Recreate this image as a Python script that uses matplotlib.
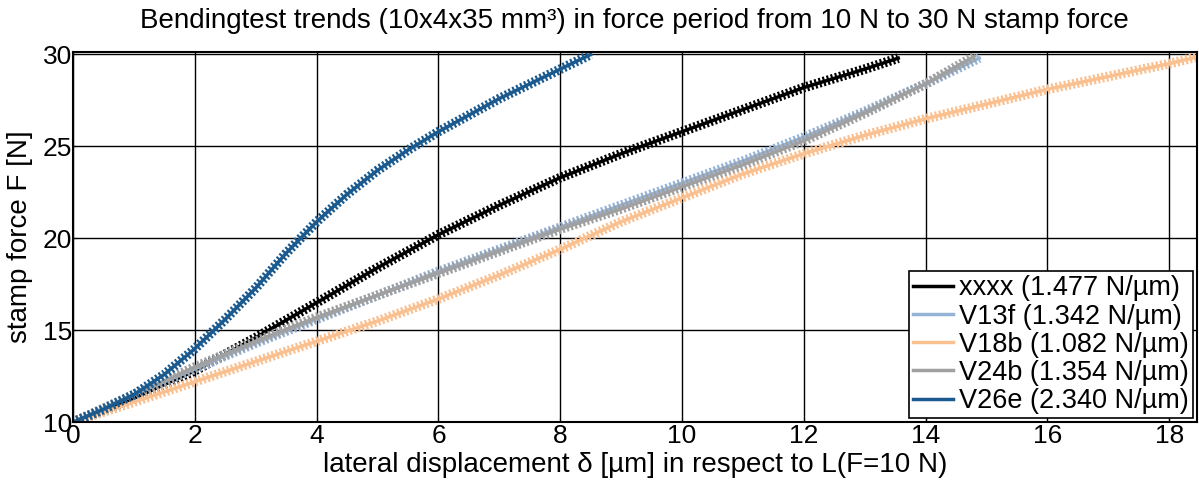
import numpy as np
import matplotlib
matplotlib.use("Agg")
import matplotlib.pyplot as plt

plt.rcParams['font.family'] = ['Liberation Sans', 'DejaVu Sans']

x_xxxx = [0, 1, 2, 3, 4, 5, 6, 7, 8, 9, 10, 11, 12, 13, 13.55]
y_xxxx = [10, 11.3, 12.8, 14.6, 16.5, 18.4, 20.2, 21.8, 23.3, 24.6, 25.8, 27.0, 28.2, 29.2, 29.8]

x_v13f = [0, 1, 2, 3, 4, 5, 6, 7, 8, 9, 10, 11, 12, 13, 14, 14.88]
y_v13f = [10, 11.5, 12.9, 14.3, 15.6, 16.9, 18.2, 19.4, 20.6, 21.8, 23.0, 24.2, 25.5, 26.9, 28.4, 29.8]

x_v18b = [0, 1, 2, 3, 4, 5, 6, 7, 8, 9, 10, 11, 12, 13, 14, 15, 16, 17, 18, 18.5]
y_v18b = [10, 11.1, 12.2, 13.3, 14.4, 15.5, 16.7, 18.0, 19.4, 20.9, 22.2, 23.5, 24.6, 25.6, 26.5, 27.3, 28.1, 28.8, 29.5, 29.9]

x_v24b = [0, 1, 2, 3, 4, 5, 6, 7, 8, 9, 10, 11, 12, 13, 14, 14.8]
y_v24b = [10, 11.5, 13.0, 14.4, 15.7, 16.9, 18.1, 19.3, 20.5, 21.6, 22.8, 24.0, 25.3, 26.8, 28.4, 29.9]

x_v26e = [0, 0.5, 1, 1.5, 2, 2.5, 3, 3.5, 4, 4.5, 5, 5.5, 6, 6.5, 7, 7.5, 8, 8.5]
y_v26e = [10, 10.7, 11.5, 12.6, 14.0, 15.6, 17.3, 19.2, 20.9, 22.4, 23.7, 24.8, 25.8, 26.7, 27.6, 28.4, 29.2, 30.0]

labels = ['xxxx (1.477 N/µm)', 'V13f (1.342 N/µm)', 'V18b (1.082 N/µm)',
          'V24b (1.354 N/µm)', 'V26e (2.340 N/µm)']
colors = ['#000000', '#95b3d7', '#fac090', '#a0a0a0', '#1b5a8e']
series = [(x_xxxx, y_xxxx), (x_v13f, y_v13f), (x_v18b, y_v18b),
          (x_v24b, y_v24b), (x_v26e, y_v26e)]

fig = plt.figure(figsize=(11.99, 4.83), dpi=100)
ax = fig.add_axes([0.061, 0.126, 0.937, 0.767])

for (xs, ys), c, lab in zip(series, colors, labels):
    # dotted band of data points around the fitted line
    ax.plot(xs, ys, color=c, lw=7, ls=(0, (0.22, 0.22)), solid_capstyle='butt')
    ax.plot(xs, ys, color=c, lw=2.5, label=lab)

ax.set_xlim(0, 18.45)
ax.set_ylim(10, 30.15)
ax.set_xticks(np.arange(0, 19, 2))
ax.set_yticks([10, 15, 20, 25, 30])
ax.grid(True, color='black', lw=1)
ax.tick_params(direction='in', labelsize=19, length=3, pad=1)
for s in ax.spines.values():
    s.set_linewidth(1.5)

ax.set_title('Bendingtest trends (10x4x35 mm³) in force period from 10 N to 30 N stamp force',
             fontsize=20, pad=17)
ax.set_xlabel('lateral displacement δ [µm] in respect to L(F=10 N)', fontsize=20, labelpad=3)
ax.set_ylabel('stamp force F [N]', fontsize=20, labelpad=7)

leg = ax.legend(loc='lower right', fontsize=19.5, frameon=True, fancybox=False,
                edgecolor='black', framealpha=1, handlelength=1.5, handletextpad=0.2,
                borderpad=0.15, labelspacing=0.08, borderaxespad=0.15)
leg.get_frame().set_linewidth(1.2)

fig.savefig('out.png', dpi=100)
